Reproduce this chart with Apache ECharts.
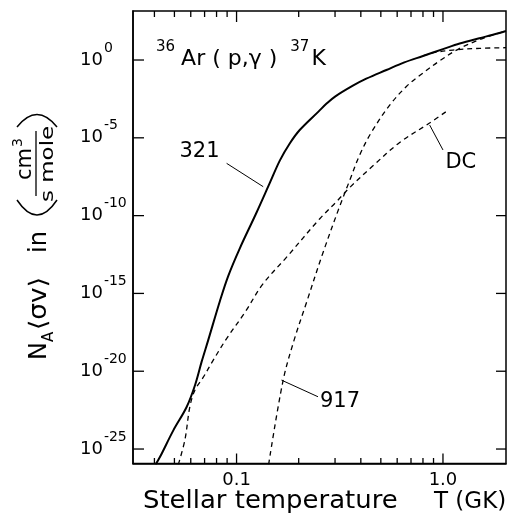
<!DOCTYPE html>
<html><head><meta charset="utf-8">
<script src="https://cdn.jsdelivr.net/npm/echarts@6/dist/echarts.min.js"></script>
<style>html,body{margin:0;padding:0;background:#fff}#c{width:511px;height:527px}</style>
</head><body><div id="c"></div>
<script>
// ---------- data ----------
const xMajorTicks = [0.1, 1.0];
const xMajorLabels = ['0.1', '1.0'];
const xMinorTicks = [0.04, 0.05, 0.06, 0.07, 0.08, 0.09, 0.2, 0.3, 0.4, 0.5, 0.6, 0.7, 0.8, 0.9];
const yTickExponents = [-25, -20, -15, -10, -5, 0];

// total rate (solid)
const totalT = [0.0405, 0.0426, 0.0494, 0.0573, 0.0629, 0.0677, 0.0729, 0.083, 0.091, 0.1037, 0.125, 0.1449, 0.1622, 0.1813, 0.2023, 0.25, 0.273, 0.30, 0.366, 0.425, 0.532, 0.65, 0.80, 1.0, 1.205, 1.5, 1.746, 2.02];
const totalLogRate = [-26.0, -25.5, -23.8, -22.3, -20.9, -19.4, -18.0, -15.5, -13.9, -12.1, -9.8, -7.9, -6.45, -5.35, -4.5, -3.3, -2.8, -2.35, -1.65, -1.2, -0.64, -0.15, 0.26, 0.70, 1.06, 1.40, 1.62, 1.86];

// 321 resonance branch (dashed, where it leaves the total)
const res321T = [0.80, 0.9, 1.117, 1.51, 2.02];
const res321LogRate = [0.26, 0.47, 0.64, 0.75, 0.79];

// 917 resonance (dashed)
const res917T = [0.143, 0.168, 0.19, 0.218, 0.262, 0.316, 0.353, 0.395, 0.45, 0.552, 0.665, 0.771, 0.964, 1.205, 1.51, 1.75, 2.02];
const res917LogRate = [-26.0, -20.6, -18.0, -15.6, -12.4, -9.4, -7.75, -6.1, -4.65, -2.9, -1.7, -1.0, -0.05, 0.75, 1.32, 1.62, 1.86];

// direct capture (dashed)
const dcT = [0.0522, 0.0562, 0.0594, 0.0629, 0.0689, 0.077, 0.0895, 0.11, 0.134, 0.174, 0.253, 0.305, 0.353, 0.458, 0.617, 0.861, 1.04];
const dcLogRate = [-26.0, -24.42, -22.28, -21.2, -20.4, -19.3, -17.9, -16.2, -14.4, -12.7, -10.2, -9.1, -8.2, -6.8, -5.3, -4.05, -3.3];

// curve labels and leader lines
const labelNames = ['321', 'DC', '917'];
const labelT = [0.0665, 1.227, 0.319];
const labelLogRate = [-5.94, -6.59, -22.01];
const leaderStartT = [0.0895, 0.862, 0.165];
const leaderStartLogRate = [-6.64, -4.18, -20.57];
const leaderEndT = [0.1346, 1.0, 0.248];
const leaderEndLogRate = [-8.14, -5.78, -21.64];

// ---------- chart ----------
const FONT = 'DejaVu Sans';
const BLACK = '#000';
const pts = (ts, ls) => ts.map((t, i) => [t, Math.pow(10, ls[i])]);
const X_MIN = 0.0315, X_MAX = 2.02;
const Y_MIN = Math.pow(10, -25.93), Y_MAX = Math.pow(10, 3.15);
const yTicks = yTickExponents.map(e => Math.pow(10, e));

const dashed = {color: BLACK, width: 1.3, type: [5, 4]};
const curve = (name, data, style, z) => ({type: 'line', name: name, data: data,
  showSymbol: false, smooth: 0.35, lineStyle: style, z: z || 3, silent: true});
const series = [
  curve('total', pts(totalT, totalLogRate), {color: BLACK, width: 2}, 5),
  curve('321', pts(res321T, res321LogRate), dashed),
  curve('917', pts(res917T, res917LogRate), dashed),
  curve('DC', pts(dcT, dcLogRate), dashed)
];
labelNames.forEach((n, i) => {
  series.push({type: 'line', showSymbol: false, silent: true,
    data: [[leaderStartT[i], Math.pow(10, leaderStartLogRate[i])], [leaderEndT[i], Math.pow(10, leaderEndLogRate[i])]],
    lineStyle: {color: BLACK, width: 1}});
});
series.push({type: 'scatter', symbolSize: 1, itemStyle: {color: 'rgba(255,255,255,0)', opacity: 1}, silent: true,
  data: labelNames.map((n, i) => ({name: n, value: [labelT[i], Math.pow(10, labelLogRate[i])]})),
  label: {show: true, position: [0, 0], align: 'center', verticalAlign: 'middle', formatter: p => p.name,
    color: BLACK, fontSize: 21, fontFamily: FONT}});

// inside ticks on all four sides, placed through the axis scales
const tickLine = (x1, y1, x2, y2) => ({type: 'line', shape: {x1: x1, y1: y1, x2: x2, y2: y2}, style: {stroke: BLACK, lineWidth: 1.3}});
function xTickSeries(ticks, lenB, lenT) {
  return {type: 'custom', silent: true, z: 6, data: ticks.map(t => [t, Y_MIN]),
    renderItem: (params, api) => {
      const cs = params.coordSys;
      const x = api.coord([api.value(0), api.value(1)])[0];
      const b = cs.y + cs.height;
      return {type: 'group', children: [tickLine(x, b, x, b - lenB), tickLine(x, cs.y, x, cs.y + lenT)]};
    }};
}
function yTickSeries(ticks, lenL, lenR) {
  return {type: 'custom', silent: true, z: 6, data: ticks.map(v => [X_MIN, v]),
    renderItem: (params, api) => {
      const cs = params.coordSys;
      const y = api.coord([api.value(0), api.value(1)])[1];
      const r = cs.x + cs.width;
      return {type: 'group', children: [tickLine(cs.x, y, cs.x + lenL, y), tickLine(r, y, r - lenR, y)]};
    }};
}
series.push(xTickSeries(xMajorTicks, 10, 11), xTickSeries(xMinorTicks, 5.5, 6), yTickSeries(yTicks, 11, 10));

const txt = (x, y, text, size, extra) => Object.assign({type: 'text', x: x, y: y,
  style: {text: text, fontSize: size, fontFamily: FONT, fill: BLACK, align: 'left', verticalAlign: 'middle'}}, extra || {});

const option = {
  animation: false,
  backgroundColor: '#fff',
  grid: {left: 133, top: 11, width: 373, height: 452.5, show: true, borderColor: BLACK, borderWidth: 1.5, backgroundColor: 'rgba(0,0,0,0)'},
  xAxis: {
    type: 'log', logBase: 10, min: X_MIN, max: X_MAX,
    axisLine: {show: true, onZero: false, lineStyle: {color: BLACK, width: 1.5}}, axisTick: {show: false},
    axisLabel: {
      show: true, customValues: xMajorTicks, margin: 8, color: BLACK, fontSize: 18, fontFamily: FONT,
      formatter: v => {
        let best = 0;
        xMajorTicks.forEach((t, i) => { if (Math.abs(Math.log10(t / v)) < Math.abs(Math.log10(xMajorTicks[best] / v))) best = i; });
        return xMajorLabels[best];
      }
    },
    splitLine: {show: false}, minorTick: {show: false}
  },
  yAxis: {
    type: 'log', logBase: 10, min: Y_MIN, max: Y_MAX,
    axisLine: {show: true, onZero: false, lineStyle: {color: BLACK, width: 1.5}}, axisTick: {show: false},
    axisLabel: {
      show: true, customValues: yTicks, align: 'left', margin: 53, color: BLACK, fontFamily: FONT,
      formatter: v => '{b|10}{s|' + Math.round(Math.log10(v)) + '}',
      rich: {
        b: {fontSize: 18, lineHeight: 18, padding: [14, 0, 14, 0], fontFamily: FONT, color: BLACK},
        s: {fontSize: 14, lineHeight: 14, padding: [4, 0, 28, 1], fontFamily: FONT, color: BLACK}
      }
    },
    splitLine: {show: false}, minorTick: {show: false}
  },
  series: series,
  graphic: [
    // title
    {type: 'text', x: 156, y: 59, style: {
      text: '{s|36}{b1|Ar ( p,γ )}{s|37}{b2|K}', fill: BLACK, verticalAlign: 'middle',
      rich: {
        b1: {fontSize: 22, lineHeight: 22, padding: [12, 13, 12, 6], fontFamily: FONT, fill: BLACK},
        b2: {fontSize: 22, lineHeight: 22, padding: [12, 0, 12, 2], fontFamily: FONT, fill: BLACK},
        s: {fontSize: 15, lineHeight: 15, padding: [4, 0, 27, 0], fontFamily: FONT, fill: BLACK}
      }}},
    // x axis title
    txt(143, 502, 'Stellar temperature', 24, {scaleX: 1.08}),
    txt(434, 502, 'T (GK)', 23),
    // y axis title (rotated)
    {type: 'group', x: 40, y: 360, rotation: Math.PI / 2, children: [
      txt(0, 0, 'N', 24),
      txt(18, 9, 'A', 15),
      txt(30, 0, '⟨σv⟩', 24, {scaleX: 1.1}),
      txt(107, 0, 'in', 24),
      {type: 'bezierCurve', shape: {x1: 160, y1: -23, x2: 160, y2: 17, cpx1: 130, cpy1: -3}, style: {stroke: BLACK, lineWidth: 1.5, fill: null}},
      {type: 'bezierCurve', shape: {x1: 233, y1: -23, x2: 233, y2: 17, cpx1: 258, cpy1: -3}, style: {stroke: BLACK, lineWidth: 1.5, fill: null}},
      {type: 'line', shape: {x1: 164, y1: -4, x2: 229, y2: -4}, style: {stroke: BLACK, lineWidth: 1.3}},
      txt(180, -14, 'cm', 21),
      txt(213, -22, '3', 14),
      txt(158, 9, 's mole', 17, {scaleX: 1.35})
    ]}
  ]
};
const chart = echarts.init(document.getElementById('c'), null, {renderer: 'canvas'});
chart.setOption(option);
</script></body></html>
